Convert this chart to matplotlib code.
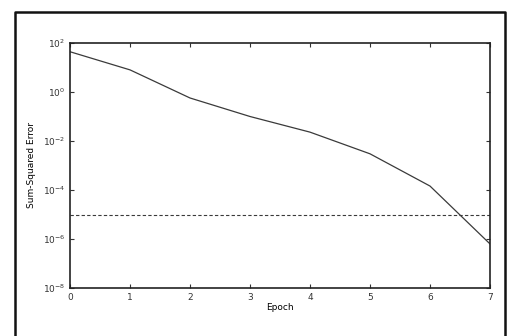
import numpy as np
import matplotlib
matplotlib.use("Agg")
import matplotlib.pyplot as plt
from matplotlib.lines import Line2D
from matplotlib.ticker import FixedLocator, NullLocator

# values
epochs = [0, 1, 2, 3, 4, 5, 6, 7]
sse = [44, 8, 0.57, 0.1, 0.023, 0.003, 1.45e-4, 6.3e-7]
goal = 1e-5
ytick_vals = [1e-8, 1e-6, 1e-4, 1e-2, 1e0, 1e2]
ytick_labels = ["$10^{-8}$", "$10^{-6}$", "$10^{-4}$", "$10^{-2}$", "$10^{0}$", "$10^{2}$"]

fig = plt.figure(figsize=(5.07, 3.36), dpi=100)
ax = fig.add_axes([70/507, 1 - 288/336, 420/507, 245/336])

ax.semilogy(epochs, sse, color="#3a3a3a", lw=0.9)
ax.axhline(goal, color="#3a3a3a", lw=0.8, linestyle=(0, (3, 2)))

ax.set_xlim(0, 7)
ax.set_ylim(1e-8, 1e2)
ax.set_xticks(epochs)
ax.yaxis.set_major_locator(FixedLocator(ytick_vals))
ax.yaxis.set_minor_locator(NullLocator())
ax.set_yticklabels(ytick_labels)
ax.tick_params(direction="in", length=3, width=0.8, labelsize=6.5, colors="#333333",
               top=True, right=True)
for s in ax.spines.values():
    s.set_linewidth(1.2)
    s.set_color("#222222")

ax.set_xlabel("Epoch", fontsize=6.5, labelpad=1)
ax.set_ylabel("Sum-Squared Error", fontsize=6.5, labelpad=5)

# outer frame of the scanned figure (no bottom edge visible)
fx = [15/507, 15/507, 505/507, 505/507]
fy = [0, 1 - 12/336, 1 - 12/336, 0]
fig.add_artist(Line2D(fx, fy, transform=fig.transFigure, color="#111111", lw=1.8))

fig.savefig("out.png", dpi=100)
